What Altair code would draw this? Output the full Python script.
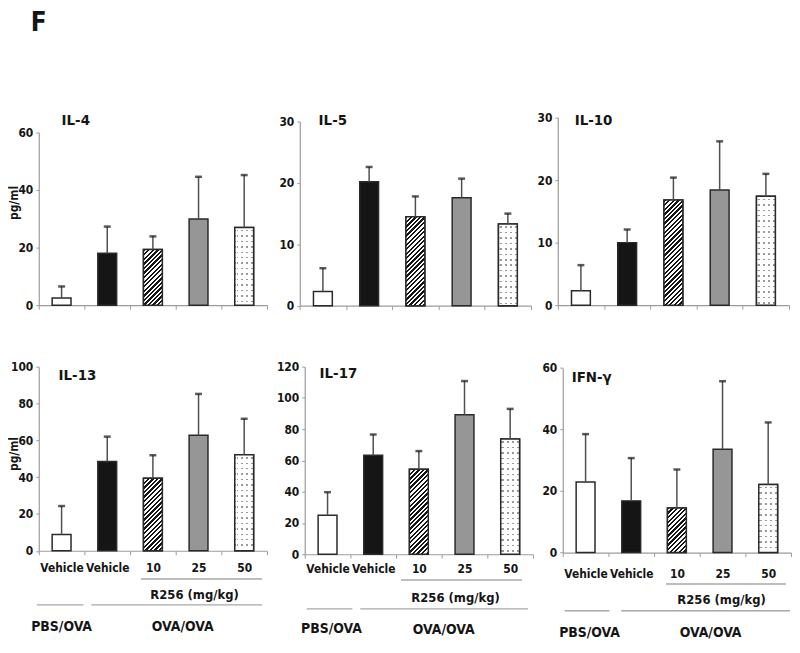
import altair as alt
import pandas as pd

# ---------------- data ----------------
keys = ["PBS/OVA Vehicle", "OVA/OVA Vehicle", "R256 10", "R256 25", "R256 50"]
cytokines = ["IL-4", "IL-5", "IL-10", "IL-13", "IL-17", "IFN-γ"]

il4_mean = [2.5, 18.0, 19.3, 29.9, 27.0]
il4_sem = [4.0, 9.3, 4.6, 14.7, 18.2]
il5_mean = [2.3, 20.2, 14.5, 17.6, 13.3]
il5_sem = [3.8, 2.4, 3.3, 3.1, 1.7]
il10_mean = [2.3, 10.0, 16.8, 18.4, 17.4]
il10_sem = [4.1, 2.1, 3.6, 7.8, 3.6]
il13_mean = [8.8, 48.5, 39.4, 62.7, 52.1]
il13_sem = [15.5, 13.5, 12.5, 22.5, 19.6]
il17_mean = [24.9, 63.3, 54.4, 89.2, 73.8]
il17_sem = [14.8, 13.3, 11.6, 21.6, 19.2]
ifng_mean = [22.9, 16.8, 14.5, 33.6, 22.1]
ifng_sem = [15.6, 13.9, 12.5, 22.1, 20.2]

means = [il4_mean, il5_mean, il10_mean, il13_mean, il17_mean, ifng_mean]
sems = [il4_sem, il5_sem, il10_sem, il13_sem, il17_sem, ifng_sem]

y_max = [60, 30, 30, 100, 120, 60]
y_ticks = [[0, 20, 40, 60], [0, 10, 20, 30], [0, 10, 20, 30],
           [0, 20, 40, 60, 80, 100], [0, 20, 40, 60, 80, 100, 120], [0, 20, 40, 60]]

y_title = "pg/ml"
dose_label = "R256 (mg/kg)"
group_labels = ["PBS/OVA", "OVA/OVA"]
panel_label = "F"

# ---------------- styling / layout ----------------
FONT = "Liberation Sans Narrow, DejaVu Sans Condensed, Liberation Sans, Arial, sans-serif"
DARK = "#151515"
GREY = "#969696"
EDGE = "#2a2a2a"
fills = ["white", DARK, "white", GREY, "white"]
BAR_W = 19

layout = [
    dict(w=243, h=185, xr=230, yr=[185, 11], tx=23, ty=-2, bottom=False),
    dict(w=240, h=185.5, xr=233, yr=[185.5, 0], tx=19, ty=-2, bottom=False),
    dict(w=233, h=185, xr=233, yr=[185, -4], tx=17, ty=-2, bottom=False),
    dict(w=248, h=185.5, xr=230, yr=[185.5, 0], tx=20, ty=8, bottom=True, lp=8,
         l1=(103, 225, 214), r256=(157, 230), l2y=240, pbs=(-2, 45), ova=(53, 225),
         tpbs=(23, 262), tova=(145, 262)),
    dict(w=240, h=189, xr=230, yr=[189, 0], tx=15, ty=6, bottom=True, lp=5,
         l1=(97, 219, 215), r256=(152, 233), l2y=244, pbs=(2, 48), ova=(56, 225),
         tpbs=(27, 264), tova=(140, 265)),
    dict(w=230, h=187.3, xr=230, yr=[187.3, 1.3], tx=9, ty=10, bottom=True, lp=12,
         l1=(104, 225, 219), r256=(160, 235), l2y=246, pbs=(2, 47), ova=(59, 229),
         tpbs=(27, 268), tova=(149, 268)),
]


def hatch_gradient(w, h, period=4.6):
    s = w + h
    n = s / period
    stops = []
    k = 0
    while k < n:
        a = k / n
        b = min((k + 0.5) / n, 1.0)
        c = min((k + 1) / n, 1.0)
        stops += [alt.GradientStop(offset=a, color=DARK), alt.GradientStop(offset=b, color=DARK),
                  alt.GradientStop(offset=b, color="white"), alt.GradientStop(offset=c, color="white")]
        k += 1
    d = w * w + h * h
    return alt.LinearGradient(gradient="linear", stops=stops, x1=0, y1=0, x2=w * s / d, y2=h * s / d)


def column_gradient(w, step=5.0, first=2.5, dot=1.5, color="#9a9a9a"):
    stops = [alt.GradientStop(offset=0, color="transparent")]
    c = first
    while c < w - 1:
        a = max(c - dot / 2, 0) / w
        b = min(c + dot / 2, w) / w
        stops += [alt.GradientStop(offset=a, color="transparent"), alt.GradientStop(offset=a, color=color),
                  alt.GradientStop(offset=b, color=color), alt.GradientStop(offset=b, color="transparent")]
        c += step
    stops.append(alt.GradientStop(offset=1, color="transparent"))
    return alt.LinearGradient(gradient="linear", stops=stops, x1=0, y1=0, x2=1, y2=0)


def row_gradient(h, step=5.5, first=3.0, dot=1.5):
    stops = [alt.GradientStop(offset=0, color="white")]
    c = first
    while c < h - 1:
        a = max(c - dot / 2, 0) / h
        b = min(c + dot / 2, h) / h
        stops += [alt.GradientStop(offset=a, color="white"), alt.GradientStop(offset=a, color="transparent"),
                  alt.GradientStop(offset=b, color="transparent"), alt.GradientStop(offset=b, color="white")]
        c += step
    stops.append(alt.GradientStop(offset=1, color="white"))
    return alt.LinearGradient(gradient="linear", stops=stops, x1=0, y1=0, x2=0, y2=1)


def text_layer(txt, x, y, size=13, align="center", angle=0):
    return alt.Chart(pd.DataFrame({"t": [txt]})).mark_text(
        font=FONT, fontSize=size, fontWeight="bold", color=DARK, align=align,
        baseline="middle", angle=angle
    ).encode(x=alt.value(x), y=alt.value(y), text="t:N")


def line_layer(x1, x2, y):
    return alt.Chart(pd.DataFrame({"t": [0]})).mark_rule(color="#a8a8a8", strokeWidth=1.4).encode(
        x=alt.value(x1), x2=alt.value(x2), y=alt.value(y))


def panel(i):
    L = layout[i]
    df = pd.DataFrame({"key": keys, "mean": means[i], "sem": sems[i]})
    ppu = (L["yr"][0] - L["yr"][1]) / y_max[i]

    xaxis = alt.Axis(
        labels=L["bottom"], labelExpr="split(datum.value, ' ')[1]", labelAngle=0,
        labelFontSize=12, labelPadding=L.get("lp", 4), tickBand="extent", tickSize=4,
        labelOverlap=False, title=None)
    yaxis = alt.Axis(values=y_ticks[i], tickCount=len(y_ticks[i]), labelFontSize=12,
                     labelPadding=3, tickSize=3, labelOverlap=False, labelBound=False,
                     labelFlush=False, title=None)
    xscale = alt.Scale(domain=keys, range=[0, L["xr"]], paddingInner=0, paddingOuter=0)
    yscale = alt.Scale(domain=[0, y_max[i]], range=L["yr"], nice=False, zero=True)

    def X():
        return alt.X("key:N", sort=keys, title=None, scale=xscale, axis=xaxis)

    def Y(field="mean:Q"):
        return alt.Y(field, title=None, scale=yscale, axis=yaxis)

    base = alt.Chart(df)
    bars = base.mark_bar(size=BAR_W, stroke=EDGE, strokeWidth=1.5).encode(
        x=X(), y=Y(),
        fill=alt.Fill("key:N", scale=alt.Scale(domain=keys, range=fills), legend=None))

    hv = df.loc[df.key == keys[2], "mean"].iloc[0] * ppu
    hatch = base.transform_filter(alt.datum.key == keys[2]).mark_bar(
        size=BAR_W, stroke=EDGE, strokeWidth=1.5, fill=hatch_gradient(BAR_W, hv)
    ).encode(x=X(), y=Y())

    dv = df.loc[df.key == keys[4], "mean"].iloc[0] * ppu
    dots_a = base.transform_filter(alt.datum.key == keys[4]).mark_bar(
        size=BAR_W, strokeWidth=0, fill=column_gradient(BAR_W)
    ).encode(x=X(), y=Y())
    dots_b = base.transform_filter(alt.datum.key == keys[4]).mark_bar(
        size=BAR_W, stroke=EDGE, strokeWidth=1.5, fill=row_gradient(dv)
    ).encode(x=X(), y=Y())

    err = base.transform_calculate(top="datum.mean + datum.sem").mark_rule(
        color="#505050", strokeWidth=1.5
    ).encode(x=X(), y=Y(), y2="top:Q")
    cap = base.transform_calculate(top="datum.mean + datum.sem").mark_tick(
        color=DARK, size=7, thickness=2.5
    ).encode(x=X(), y=Y("top:Q"))

    layers = [bars, hatch, dots_a, dots_b, err, cap,
              text_layer(cytokines[i], L["tx"], L["ty"], size=15, align="left")]

    if i in (0, 3):
        layers.append(text_layer(y_title, -25, 82 if i == 0 else 88, size=12, angle=270))
    if i == 0:
        layers.append(text_layer(panel_label, -8, -99, size=26, align="left"))
    if L["bottom"]:
        x1, x2, yy = L["l1"]
        layers.append(line_layer(x1, x2, yy))
        layers.append(text_layer(dose_label, L["r256"][0], L["r256"][1], size=13))
        layers.append(line_layer(L["pbs"][0], L["pbs"][1], L["l2y"]))
        layers.append(line_layer(L["ova"][0], L["ova"][1], L["l2y"]))
        layers.append(text_layer(group_labels[0], L["tpbs"][0], L["tpbs"][1], size=14))
        layers.append(text_layer(group_labels[1], L["tova"][0], L["tova"][1], size=14))

    return alt.layer(*layers).properties(width=L["w"], height=L["h"])


row1 = alt.hconcat(panel(0), panel(1), panel(2), spacing=20, bounds="flush")
row2 = alt.hconcat(panel(3), panel(4), panel(5), spacing=20, bounds="flush")

chart = alt.vconcat(row1, row2, spacing=247, bounds="flush").properties(
    padding={"left": 0, "top": 0, "right": 0, "bottom": 0}
).configure_view(stroke=None).configure_axis(
    labelFont=FONT, labelFontWeight="bold", labelColor=DARK,
    domainColor="#9c9c9c", tickColor="#9c9c9c", grid=False, domainWidth=1.2,
    labelOverlap=False
)

chart.save("out.html", embed_options={"renderer": "svg", "actions": False})
